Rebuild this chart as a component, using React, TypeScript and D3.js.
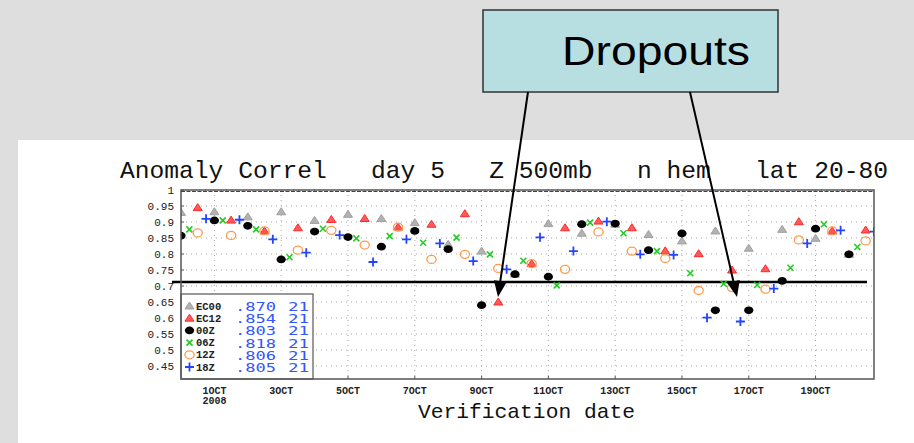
import React, { useRef, useEffect } from 'react';
import * as d3 from 'd3';

// day index 0 = 30 Sep 2008, 00Z
const dayIndex = d3.range(0, 21);

const ec00 = [0.930, 0.932, 0.916, 0.932, 0.905, 0.924, 0.911, 0.898, 0.830, 0.809, 0.737, 0.895, 0.865, 0.893, 0.861, 0.841, 0.872, 0.818, 0.877, 0.849, 0.799];
const ec12 = [0.945, 0.906, 0.872, 0.882, 0.908, 0.911, 0.884, 0.893, 0.926, 0.650, 0.770, 0.882, 0.903, 0.882, 0.810, 0.801, 0.750, 0.754, 0.901, 0.872, 0.875];
const z00 = [0.857, 0.905, 0.888, 0.783, 0.870, 0.853, 0.823, 0.872, 0.815, 0.640, 0.737, 0.729, 0.893, 0.895, 0.812, 0.864, 0.624, 0.624, 0.716, 0.879, 0.799];
const z06 = [0.877, 0.905, 0.877, 0.790, 0.879, 0.849, 0.856, 0.835, 0.851, 0.799, 0.779, 0.702, 0.898, 0.865, 0.809, 0.740, 0.707, 0.703, 0.757, 0.893, 0.822];
const z12 = [0.866, 0.858, 0.872, 0.812, 0.874, 0.828, 0.884, 0.783, 0.799, 0.755, 0.770, 0.752, 0.869, 0.809, 0.786, 0.686, 0.695, 0.690, 0.844, 0.872, 0.841];
const z18 = [0.910, 0.907, 0.846, 0.804, 0.859, 0.775, 0.846, 0.833, 0.778, 0.752, 0.852, 0.809, 0.901, 0.799, 0.797, 0.601, 0.589, 0.692, 0.833, 0.874, 0.870];

const seriesNames = ['EC00', 'EC12', '00Z', '06Z', '12Z', '18Z'];
const seriesHourOffset = [0, 0.5, 0, 0.25, 0.5, 0.75];
const meanLabels = ['.870', '.854', '.803', '.818', '.806', '.805'];
const countLabels = ['21', '21', '21', '21', '21', '21'];

const xTickDays = [1, 3, 5, 7, 9, 11, 13, 15, 17, 19];
const xTickLabels = ['1OCT', '3OCT', '5OCT', '7OCT', '9OCT', '11OCT', '13OCT', '15OCT', '17OCT', '19OCT'];
const yTicks = [1, 0.95, 0.9, 0.85, 0.8, 0.75, 0.7, 0.65, 0.6, 0.55, 0.5, 0.45];
const yTickLabels = ['1', '0.95', '0.9', '0.85', '0.8', '0.75', '0.7', '0.65', '0.6', '0.55', '0.5', '0.45'];
const referenceLevel = 0.7125;

const title = 'Anomaly Correl   day 5   Z 500mb   n hem   lat 20-80';

const W = 914;
const H = 443;
const plot = { left: 181, right: 874, top: 190, bottom: 379 };
const MONO = '"Liberation Mono", "Courier New", monospace';

function drawMarker(g, kind, x, y) {
  if (kind === 0 || kind === 1) {
    g.append('path')
      .attr('d', `M${x},${y - 4} L${x + 4.5},${y + 3} L${x - 4.5},${y + 3} Z`)
      .attr('fill', kind === 0 ? '#b2b2b2' : '#ff5a5a')
      .attr('stroke', kind === 0 ? '#a0a0a0' : '#ff2a2a')
      .attr('stroke-width', 1);
  } else if (kind === 2) {
    g.append('ellipse').attr('cx', x).attr('cy', y).attr('rx', 4.6).attr('ry', 3.9).attr('fill', '#000');
  } else if (kind === 3) {
    g.append('path')
      .attr('d', `M${x - 3},${y - 3} L${x + 3},${y + 3} M${x - 3},${y + 3} L${x + 3},${y - 3}`)
      .attr('stroke', '#22cc22').attr('stroke-width', 1.6).attr('fill', 'none');
  } else if (kind === 4) {
    g.append('ellipse').attr('cx', x).attr('cy', y).attr('rx', 4.6).attr('ry', 4)
      .attr('fill', 'none').attr('stroke', '#ff9a4c').attr('stroke-width', 1.3);
  } else {
    g.append('path')
      .attr('d', `M${x - 4.5},${y} L${x + 4.5},${y} M${x},${y - 4.5} L${x},${y + 4.5}`)
      .attr('stroke', '#2244ff').attr('stroke-width', 1.8).attr('fill', 'none');
  }
}

function ScoreChart() {
  const svgRef = useRef(null);

  useEffect(() => {
    document.body.style.margin = '0';
    const svg = d3.select(svgRef.current);
    svg.selectAll('*').remove();

    const xScale = d3.scaleLinear().domain([0, 20.75]).range([plot.left, plot.right]);
    const yScale = d3.scaleLinear().domain([1 - (plot.bottom - plot.top) / 320, 1]).range([plot.bottom, plot.top]);

    // backgrounds
    svg.append('rect').attr('width', W).attr('height', H).attr('fill', '#dedede');
    svg.append('rect').attr('x', 18).attr('y', 140).attr('width', W - 18).attr('height', H - 140).attr('fill', '#fff');

    // title
    svg.append('text')
      .attr('x', 120).attr('y', 178)
      .attr('font-family', MONO).attr('font-size', 24).attr('fill', '#111')
      .attr('textLength', 768).attr('lengthAdjust', 'spacingAndGlyphs')
      .attr('xml:space', 'preserve')
      .style('white-space', 'pre')
      .text(title);

    // dotted grid
    const grid = svg.append('g').attr('stroke', '#a8a8a8').attr('stroke-dasharray', '1,4').attr('stroke-width', 1);
    yTicks.slice(1).forEach((v) => {
      grid.append('line').attr('x1', plot.left).attr('x2', plot.right).attr('y1', yScale(v)).attr('y2', yScale(v));
    });
    xTickDays.forEach((d) => {
      grid.append('line').attr('x1', xScale(d)).attr('x2', xScale(d)).attr('y1', plot.top).attr('y2', plot.bottom);
    });

    // y tick labels and ticks
    yTicks.forEach((v, i) => {
      svg.append('text')
        .attr('x', 174).attr('y', yScale(v) + 4)
        .attr('text-anchor', 'end')
        .attr('font-family', MONO).attr('font-size', 11).attr('fill', '#222')
        .text(yTickLabels[i]);
      svg.append('line').attr('x1', plot.left).attr('x2', plot.left + 3)
        .attr('y1', yScale(v)).attr('y2', yScale(v)).attr('stroke', '#555');
    });

    // x tick labels
    xTickDays.forEach((d, i) => {
      svg.append('text')
        .attr('x', xScale(d)).attr('y', 394)
        .attr('text-anchor', 'middle')
        .attr('font-family', MONO).attr('font-size', 10).attr('font-weight', 'bold').attr('fill', '#222')
        .text(xTickLabels[i]);
      svg.append('line').attr('x1', xScale(d)).attr('x2', xScale(d))
        .attr('y1', plot.bottom).attr('y2', plot.bottom - 3).attr('stroke', '#555');
    });
    svg.append('text')
      .attr('x', xScale(1)).attr('y', 404)
      .attr('text-anchor', 'middle')
      .attr('font-family', MONO).attr('font-size', 10).attr('font-weight', 'bold').attr('fill', '#222')
      .text('2008');

    svg.append('text')
      .attr('x', 418).attr('y', 418)
      .attr('font-family', MONO).attr('font-size', 21).attr('fill', '#111')
      .attr('textLength', 217).attr('lengthAdjust', 'spacingAndGlyphs')
      .text('Verification date');

    // reference line
    svg.append('line')
      .attr('x1', 172).attr('x2', 867)
      .attr('y1', yScale(referenceLevel)).attr('y2', yScale(referenceLevel))
      .attr('stroke', '#000').attr('stroke-width', 2.5);

    // markers
    svg.append('clipPath').attr('id', 'plotClip')
      .append('rect').attr('x', plot.left).attr('y', plot.top)
      .attr('width', plot.right - plot.left).attr('height', plot.bottom - plot.top);
    const marks = svg.append('g').attr('clip-path', 'url(#plotClip)');
    const allSeries = [ec00, ec12, z00, z06, z12, z18];
    allSeries.forEach((vals, k) => {
      dayIndex.forEach((d, i) => {
        drawMarker(marks, k, xScale(d + seriesHourOffset[k]), yScale(vals[i]));
      });
    });

    // legend
    const lg = svg.append('g');
    lg.append('rect').attr('x', plot.left).attr('y', 294).attr('width', 132).attr('height', plot.bottom - 294)
      .attr('fill', '#fff').attr('stroke', '#555').attr('stroke-width', 1.2);
    seriesNames.forEach((name, i) => {
      const cy = 306 + i * 12.2;
      drawMarker(lg, i, 189.5, cy);
      lg.append('text').attr('x', 196).attr('y', cy + 3.5)
        .attr('font-family', MONO).attr('font-size', 10.5).attr('font-weight', 'bold').attr('fill', '#222')
        .text(name);
      lg.append('text').attr('x', 235).attr('y', cy + 5)
        .attr('font-family', '"DejaVu Sans Mono", monospace').attr('font-size', 13).attr('fill', '#3355ff')
        .attr('textLength', 41).attr('lengthAdjust', 'spacingAndGlyphs')
        .text(meanLabels[i]);
      lg.append('text').attr('x', 288).attr('y', cy + 5)
        .attr('font-family', '"DejaVu Sans Mono", monospace').attr('font-size', 13).attr('fill', '#3355ff')
        .attr('textLength', 21).attr('lengthAdjust', 'spacingAndGlyphs')
        .text(countLabels[i]);
    });

    // frame
    svg.append('rect').attr('x', plot.left).attr('y', plot.top)
      .attr('width', plot.right - plot.left).attr('height', plot.bottom - plot.top)
      .attr('fill', 'none').attr('stroke', '#555').attr('stroke-width', 1.5);
    svg.append('line').attr('x1', plot.left).attr('x2', plot.right).attr('y1', plot.top + 1.5).attr('y2', plot.top + 1.5)
      .attr('stroke', '#444').attr('stroke-width', 1.2).attr('stroke-dasharray', '4,1.5');

    // callout box
    svg.append('rect').attr('x', 483).attr('y', 10).attr('width', 295).attr('height', 82)
      .attr('fill', '#b7dfe2').attr('stroke', '#333').attr('stroke-width', 1.5);
    svg.append('text').attr('x', 562).attr('y', 65)
      .attr('font-family', '"Liberation Sans", Arial, sans-serif').attr('font-size', 40).attr('fill', '#000')
      .attr('textLength', 188).attr('lengthAdjust', 'spacingAndGlyphs')
      .text('Dropouts');

    // arrows
    const arrows = [
      { from: [528, 92], to: [498, 297] },
      { from: [690, 92], to: [737, 297] },
    ];
    arrows.forEach(({ from, to }) => {
      const dx = to[0] - from[0];
      const dy = to[1] - from[1];
      const len = Math.hypot(dx, dy);
      const ux = dx / len;
      const uy = dy / len;
      const headLen = 16;
      const headW = 6.5;
      const bx = to[0] - ux * headLen;
      const by = to[1] - uy * headLen;
      svg.append('line').attr('x1', from[0]).attr('y1', from[1]).attr('x2', bx).attr('y2', by)
        .attr('stroke', '#000').attr('stroke-width', 2);
      svg.append('path')
        .attr('d', `M${to[0]},${to[1]} L${bx - uy * headW},${by + ux * headW} L${bx + uy * headW},${by - ux * headW} Z`)
        .attr('fill', '#000');
    });
  }, []);

  return <svg ref={svgRef} width={W} height={H} style={{ display: 'block' }} />;
}

export default function App() {
  return <ScoreChart />;
}
